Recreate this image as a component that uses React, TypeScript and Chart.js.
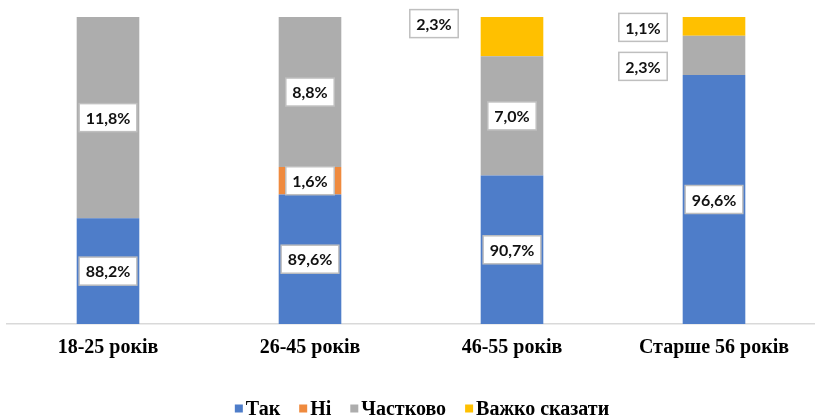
import React, { useEffect, useRef } from "react";
import { Chart, registerables } from "chart.js";

Chart.register(...registerables);

const categories = ["18-25 років", "26-45 років", "46-55 років", "Старше 56 років"];
const seriesNames = ["Так", "Ні", "Частково", "Важко сказати"];
const yesValues = [88.2, 89.6, 90.7, 96.6];
const noValues = [0, 1.6, 0, 0];
const partlyValues = [11.8, 8.8, 7.0, 2.3];
const hardValues = [0, 0, 2.3, 1.1];
const seriesColors = ["#4E7DC9", "#EF8A3E", "#ADADAD", "#FFC000"];

// label displacement (px) for small segments: key = "dataset-index"
const labelShift: Record<string, [number, number]> = {
  "3-2": [-78, -13],
  "3-3": [-71, 1],
  "2-3": [-71, 11],
};

const fmt = (v: number) => v.toFixed(1).replace(".", ",") + "%";

const SERIF = "'Liberation Serif', 'Times New Roman', serif";

const labelPlugin = {
  id: "boxLabels",
  afterDatasetsDraw(chart: any) {
    const ctx = chart.ctx;
    const area = chart.chartArea;
    ctx.save();
    ctx.font = "bold 16px Lato, 'Open Sans', sans-serif";
    ctx.textAlign = "center";
    ctx.textBaseline = "middle";
    chart.data.datasets.forEach((ds: any, di: number) => {
      const meta = chart.getDatasetMeta(di);
      meta.data.forEach((el: any, i: number) => {
        const v = ds.data[i];
        if (!v) return;
        const top = Math.max(el.y, area.top);
        const base = Math.min(el.base, area.bottom);
        let cx = el.x;
        let cy = (top + base) / 2;
        const sh = labelShift[`${di}-${i}`];
        if (sh) {
          cx += sh[0];
          cy += sh[1];
        }
        const text = fmt(v);
        const w = ctx.measureText(text).width + 13;
        const h = 28;
        ctx.fillStyle = "#ffffff";
        ctx.fillRect(cx - w / 2, cy - h / 2, w, h);
        ctx.strokeStyle = "#BFBFBF";
        ctx.lineWidth = 1.5;
        ctx.strokeRect(cx - w / 2, cy - h / 2, w, h);
        ctx.fillStyle = "#111111";
        ctx.fillText(text, cx, cy + 1);
      });
    });
    ctx.restore();
  },
};

const legendPlugin = {
  id: "customLegend",
  afterDraw(chart: any) {
    const ctx = chart.ctx;
    ctx.save();
    ctx.font = `bold 20px ${SERIF}`;
    ctx.textBaseline = "middle";
    ctx.textAlign = "left";
    const marker = 8;
    const gap = 3;
    const spacing = 19;
    const items = chart.data.datasets.map((ds: any) => ({
      label: ds.label,
      color: ds.backgroundColor,
      w: marker + gap + ctx.measureText(ds.label).width,
    }));
    const total = items.reduce((s: number, it: any) => s + it.w, 0) + spacing * (items.length - 1);
    let x = 422 - total / 2;
    const y = 408.5;
    items.forEach((it: any) => {
      ctx.fillStyle = it.color;
      ctx.fillRect(x, y - 4, marker, marker);
      ctx.fillStyle = "#000000";
      ctx.fillText(it.label, x + marker + gap, y + 1);
      x += it.w + spacing;
    });
    ctx.restore();
  },
};

export default function App() {
  const ref = useRef<HTMLCanvasElement | null>(null);
  useEffect(() => {
    document.body.style.margin = "0";
    const valueSets = [yesValues, noValues, partlyValues, hardValues];
    const chart = new Chart(ref.current as HTMLCanvasElement, {
      type: "bar",
      data: {
        labels: categories,
        datasets: seriesNames.map((name, k) => ({
          label: name,
          data: valueSets[k],
          backgroundColor: seriesColors[k],
          barPercentage: 0.31,
          categoryPercentage: 1,
          borderWidth: 0,
        })),
      },
      options: {
        animation: false,
        responsive: false,
        maintainAspectRatio: false,
        layout: { padding: { top: 17, left: 7, right: 0, bottom: 52 } },
        plugins: {
          legend: { display: false },
          tooltip: { enabled: false },
        },
        scales: {
          x: {
            stacked: true,
            grid: { display: false },
            border: { display: true, color: "#D9D9D9", width: 1.5 },
            ticks: {
              color: "#000000",
              font: { family: SERIF, size: 20, weight: "bold" },
              padding: 4,
              maxRotation: 0,
            },
          },
          y: {
            stacked: true,
            display: false,
            min: 82,
            max: 100,
          },
        },
      },
      plugins: [labelPlugin, legendPlugin],
    });
    return () => chart.destroy();
  }, []);
  return (
    <div style={{ width: 815, height: 416 }}>
      <canvas ref={ref} width={815} height={416} style={{ display: "block" }} />
    </div>
  );
}
